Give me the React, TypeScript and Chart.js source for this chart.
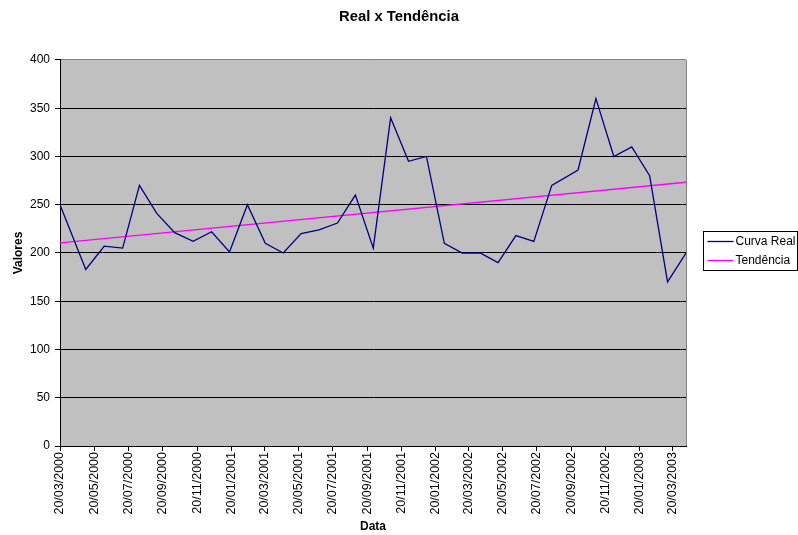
import React, { useEffect, useRef } from "react";
import { Chart, registerables } from "chart.js";

Chart.register(...registerables);

// ---- data ----
const pointDates = [
  "20/03/2000", "05/05/2000", "07/06/2000", "10/07/2000", "09/08/2000",
  "09/09/2000", "11/10/2000", "13/11/2000", "16/12/2000", "17/01/2001",
  "18/02/2001", "22/03/2001", "23/04/2001", "25/05/2001", "26/06/2001",
  "29/07/2001", "30/08/2001", "01/10/2001", "01/11/2001", "03/12/2001",
  "04/01/2002", "05/02/2002", "09/03/2002", "10/04/2002", "12/05/2002",
  "13/06/2002", "15/07/2002", "16/08/2002", "02/10/2002", "03/11/2002",
  "05/12/2002", "06/01/2003", "07/02/2003", "11/03/2003", "13/04/2003",
];
const realValues = [
  250, 183, 207, 205, 270,
  241, 221, 212, 222, 201,
  250, 210, 200, 220, 224,
  231, 260, 205, 340, 295,
  300, 210, 200, 200, 190,
  218, 212, 270, 286, 360,
  300, 310, 280, 170, 200,
];
const trendDates = ["20/03/2000", "13/04/2003"];
const trendValues = [210.5, 273.3];
const tickLabels = [
  "20/03/2000", "20/05/2000", "20/07/2000", "20/09/2000", "20/11/2000",
  "20/01/2001", "20/03/2001", "20/05/2001", "20/07/2001", "20/09/2001",
  "20/11/2001", "20/01/2002", "20/03/2002", "20/05/2002", "20/07/2002",
  "20/09/2002", "20/11/2002", "20/01/2003", "20/03/2003",
];
const seriesNames = ["Curva Real", "Tendência"];
const seriesColors = ["#000080", "#FF00FF"];

const FONT = "'Liberation Sans', Arial, sans-serif";

function dayIndex(s: string): number {
  const [d, m, y] = s.split("/").map(Number);
  return Math.round((Date.UTC(y, m - 1, d) - Date.UTC(2000, 2, 20)) / 86400000);
}

const tickMap: Record<number, string> = {};
tickLabels.forEach((t) => (tickMap[dayIndex(t)] = t));

const plotBg = {
  id: "plotBg",
  beforeDraw(chart: any) {
    const { ctx, chartArea: a } = chart;
    ctx.save();
    ctx.fillStyle = "#C0C0C0";
    ctx.fillRect(a.left, a.top, a.right - a.left, a.bottom - a.top);
    ctx.restore();
  },
  afterDatasetsDraw(chart: any) {
    const { ctx, chartArea: a } = chart;
    ctx.save();
    ctx.strokeStyle = "#808080";
    ctx.lineWidth = 1;
    ctx.beginPath();
    ctx.moveTo(Math.round(a.right) + 0.5, a.top);
    ctx.lineTo(Math.round(a.right) + 0.5, a.bottom);
    ctx.stroke();
    ctx.restore();
  },
};

const boxLegend = {
  id: "boxLegend",
  afterDraw(chart: any) {
    const { ctx, chartArea: a } = chart;
    const w = 94;
    const h = 39;
    const x0 = Math.round(a.right) + 17.5;
    const y0 = Math.round((a.top + a.bottom) / 2 - 22) + 0.5;
    ctx.save();
    ctx.fillStyle = "#FFFFFF";
    ctx.fillRect(x0, y0, w, h);
    ctx.strokeStyle = "#000";
    ctx.lineWidth = 1;
    ctx.strokeRect(x0, y0, w, h);
    ctx.font = `12px ${FONT}`;
    ctx.textBaseline = "middle";
    ctx.fillStyle = "#000";
    seriesNames.forEach((name, i) => {
      const y = y0 + 10 + i * 19;
      ctx.strokeStyle = seriesColors[i];
      ctx.lineWidth = 1.3;
      ctx.beginPath();
      ctx.moveTo(x0 + 4, y);
      ctx.lineTo(x0 + 30, y);
      ctx.stroke();
      ctx.fillText(name, x0 + 32, y);
    });
    ctx.restore();
  },
};

export default function App() {
  const ref = useRef<HTMLCanvasElement | null>(null);

  useEffect(() => {
    if (!ref.current) return;
    const chart = new Chart(ref.current, {
      type: "line",
      data: {
        datasets: [
          {
            label: seriesNames[0],
            data: pointDates.map((d, i) => ({ x: dayIndex(d), y: realValues[i] })),
            borderColor: seriesColors[0],
            backgroundColor: seriesColors[0],
            borderWidth: 1.3,
            pointRadius: 0,
            tension: 0,
            fill: false,
          },
          {
            label: seriesNames[1],
            data: trendDates.map((d, i) => ({ x: dayIndex(d), y: trendValues[i] })),
            borderColor: seriesColors[1],
            backgroundColor: seriesColors[1],
            borderWidth: 1.3,
            pointRadius: 0,
            tension: 0,
            fill: false,
          },
        ],
      },
      options: {
        animation: false,
        responsive: false,
        events: [],
        layout: { padding: { left: 0, right: 0, top: 0, bottom: 0 } },
        plugins: {
          legend: { display: false },
          tooltip: { enabled: false },
          title: {
            display: true,
            text: "Real x Tendência",
            color: "#000",
            font: { family: FONT, size: 14.8, weight: "bold" },
            padding: { top: 8, bottom: 34.2 },
          },
        },
        scales: {
          x: {
            type: "linear",
            bounds: "data",
            min: 0,
            max: dayIndex(pointDates[pointDates.length - 1]),
            afterBuildTicks: (scale: any) => {
              scale.ticks = tickLabels.map((t) => ({ value: dayIndex(t) }));
            },
            afterFit: (scale: any) => {
              scale.height = 89;
            },
            ticks: {
              autoSkip: false,
              minRotation: 90,
              maxRotation: 90,
              padding: 1,
              color: "#000",
              font: { family: FONT, size: 12.5 },
              callback: (v: any) => tickMap[Math.round(Number(v))] ?? "",
            },
            grid: { drawOnChartArea: false, tickLength: 5, color: "#000" },
            border: { color: "#000", width: 1 },
            title: {
              display: true,
              text: "Data",
              color: "#000",
              font: { family: FONT, size: 12, weight: "bold" },
              padding: { top: 0, bottom: 1 },
            },
          },
          y: {
            min: 0,
            max: 400,
            afterFit: (scale: any) => {
              scale.width = 60;
            },
            ticks: {
              stepSize: 50,
              padding: 5,
              color: "#000",
              font: { family: FONT, size: 12 },
            },
            grid: {
              color: (c: any) => (c.tick && c.tick.value === 400 ? "#808080" : "#000"),
              tickColor: "#000",
              tickLength: 5,
              lineWidth: 1,
            },
            border: { color: "#000", width: 1 },
            title: {
              display: true,
              text: "Valores",
              color: "#000",
              font: { family: FONT, size: 12, weight: "bold" },
              padding: { top: 11, bottom: 0 },
            },
          },
          legendSpace: {
            type: "linear",
            position: "right",
            display: true,
            afterFit: (scale: any) => {
              scale.width = 112;
            },
            ticks: { display: false },
            grid: { display: false, drawTicks: false },
            border: { display: false },
          },
        },
      },
      plugins: [plotBg, boxLegend],
    } as any);
    return () => chart.destroy();
  }, []);

  return (
    <div style={{ position: "fixed", left: 0, top: 0, width: 798, height: 535, background: "#fff" }}>
      <canvas ref={ref} width={798} height={535} style={{ display: "block" }} />
    </div>
  );
}
